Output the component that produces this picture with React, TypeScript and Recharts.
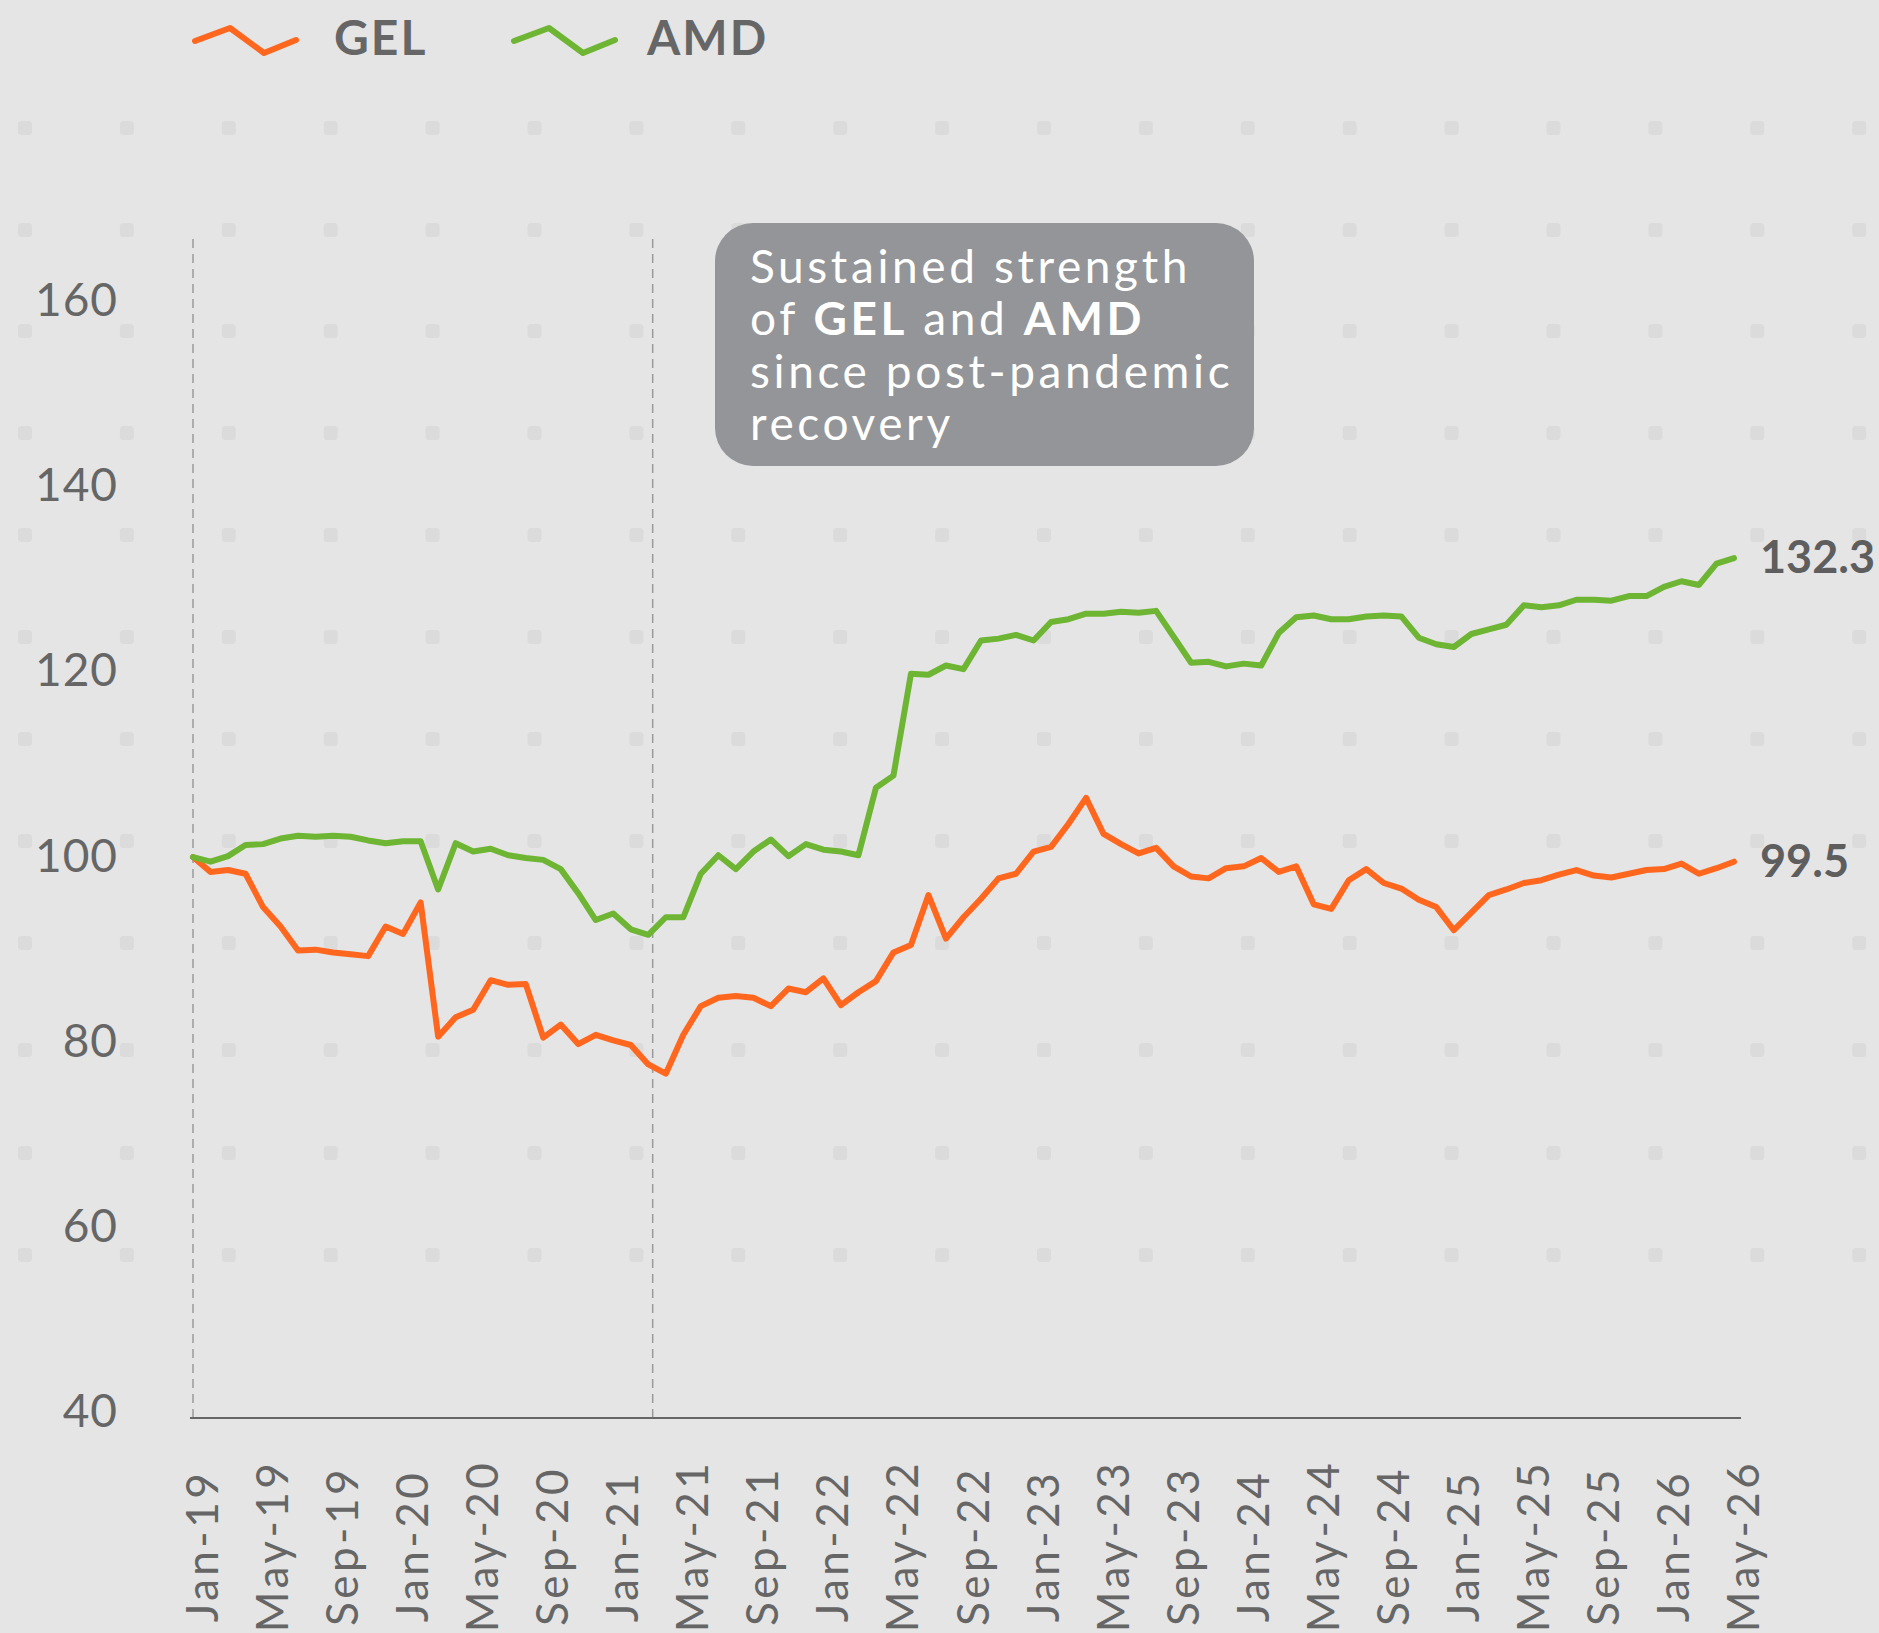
import React from 'react';
import { LineChart, Line, XAxis, YAxis, ReferenceLine, Legend, LabelList } from 'recharts';

const MONTH_NAMES = ['Jan', 'Feb', 'Mar', 'Apr', 'May', 'Jun', 'Jul', 'Aug', 'Sep', 'Oct', 'Nov', 'Dec'];
const START_YEAR = 2019;
const MONTH_COUNT = 89;
const categories: string[] = Array.from(
  { length: MONTH_COUNT },
  (_, i) => `${MONTH_NAMES[i % 12]}-${String((START_YEAR + Math.floor(i / 12)) % 100)}`
);

const gelValues = [
  100, 98.4, 98.6, 98.2, 94.6, 92.5, 89.9, 90.0, 89.7, 89.5, 89.3, 92.5,
  91.7, 95.1, 80.6, 82.7, 83.5, 86.7, 86.2, 86.3, 80.5, 81.9, 79.8, 80.8,
  80.2, 79.7, 77.6, 76.6, 80.8, 83.9, 84.8, 85.0, 84.8, 83.9, 85.8, 85.4,
  86.9, 84.0, 85.4, 86.6, 89.7, 90.5, 95.9, 91.2, 93.5, 95.5, 97.7, 98.2,
  100.6, 101.1, 103.6, 106.4, 102.5, 101.4, 100.4, 101.0, 99.0, 97.9, 97.7, 98.8,
  99.0, 99.9, 98.4, 99.0, 94.9, 94.4, 97.5, 98.7, 97.2, 96.6, 95.4, 94.6,
  92.1, 94.0, 95.9, 96.5, 97.2, 97.5, 98.1, 98.6, 98.0, 97.8, 98.2, 98.6,
  98.7, 99.3, 98.2, 98.8, 99.5,
];

const amdValues = [
  100, 99.5, 100.1, 101.3, 101.4, 102.0, 102.3, 102.2, 102.3, 102.2, 101.8, 101.5,
  101.7, 101.7, 96.5, 101.5, 100.6, 100.9, 100.2, 99.9, 99.7, 98.7, 96.1, 93.2,
  93.9, 92.2, 91.6, 93.5, 93.5, 98.2, 100.2, 98.7, 100.6, 101.9, 100.1, 101.4,
  100.8, 100.6, 100.2, 107.5, 108.8, 119.8, 119.7, 120.7, 120.3, 123.4, 123.6, 124.0,
  123.4, 125.4, 125.7, 126.3, 126.3, 126.5, 126.4, 126.6, 123.8, 121.0, 121.1, 120.6,
  120.9, 120.7, 124.2, 125.9, 126.1, 125.7, 125.7, 126.0, 126.1, 126.0, 123.7, 123.0,
  122.7, 124.1, 124.6, 125.1, 127.2, 127.0, 127.2, 127.8, 127.8, 127.7, 128.2, 128.2,
  129.2, 129.8, 129.4, 131.7, 132.3,
];

const yTicks = [40, 60, 80, 100, 120, 140, 160];
const xTickIndexes = Array.from({ length: 23 }, (_, k) => k * 4);
// positions (in months since Jan-19) of the two dashed markers
const referencePositions = [0, 26.25];

const seriesList = [
  { key: 'gel', name: 'GEL', color: '#FF671F' },
  { key: 'amd', name: 'AMD', color: '#6DB533' },
];

const annotationLines: { text: string; bold?: boolean }[][] = [
  [{ text: 'Sustained strength' }],
  [{ text: 'of ' }, { text: 'GEL', bold: true }, { text: ' and ' }, { text: 'AMD', bold: true }],
  [{ text: 'since post-pandemic' }],
  [{ text: 'recovery' }],
];

const data = categories.map((month, i) => ({ idx: i, month, gel: gelValues[i], amd: amdValues[i] }));

const FONT = 'Lato, "Open Sans", sans-serif';
const BG = '#e5e5e5';
const DOT = '#dbdbdb';
const TEXT = '#666666';

const dotCols = Array.from({ length: 19 }, (_, k) => 25 + 101.9 * k);
const dotRows = [128, 230, 331, 433, 535, 637, 739, 841, 943, 1050, 1153, 1255];

const XTick = (props: any) => {
  const { x, y, payload } = props;
  return (
    <g transform={`translate(${x},${y + 128}) rotate(-90)`}>
      <text
        x={0}
        y={25}
        textAnchor="middle"
        fill={TEXT}
        fontFamily={FONT}
        fontSize={44}
        letterSpacing={3.5}
      >
        {categories[payload.value]}
      </text>
    </g>
  );
};

const YTick = (props: any) => {
  const { x, y, payload } = props;
  return (
    <text
      x={x}
      y={y - 3}
      textAnchor="end"
      dominantBaseline="central"
      fill={TEXT}
      fontFamily={FONT}
      fontSize={46}
      letterSpacing={1}
    >
      {payload.value}
    </text>
  );
};

const renderLegend = () => {
  const zig = [
    [0, 13],
    [35, 0],
    [69, 25],
    [101, 12],
  ];
  const items = [
    { ...seriesList[0], sx: 195, tx: 334 },
    { ...seriesList[1], sx: 514, tx: 647 },
  ];
  return (
    <svg width={900} height={80} style={{ display: 'block' }}>
      {items.map((it) => (
        <g key={it.key}>
          <polyline
            points={zig.map(([dx, dy]) => `${it.sx + dx},${28 + dy}`).join(' ')}
            fill="none"
            stroke={it.color}
            strokeWidth={6}
            strokeLinecap="round"
            strokeLinejoin="round"
          />
          <text
            x={it.tx}
            y={55}
            fill={TEXT}
            fontFamily={FONT}
            fontWeight={700}
            fontSize={48}
            letterSpacing={2}
          >
            {it.name}
          </text>
        </g>
      ))}
    </svg>
  );
};

const makeEndLabel = () => (props: any) => {
  const { x, y, value, index } = props;
  if (index !== data.length - 1) return null;
  return (
    <text
      x={x + 26}
      y={y - 2}
      dominantBaseline="central"
      fill="#5e5e5e"
      fontFamily={FONT}
      fontWeight={700}
      fontSize={45}
    >
      {Number(value).toFixed(1)}
    </text>
  );
};

export default function App() {
  return (
    <div
      style={{
        position: 'absolute',
        left: 0,
        top: 0,
        width: 1879,
        height: 1633,
        background: BG,
        overflow: 'hidden',
      }}
    >
      <svg width={1879} height={1633} style={{ position: 'absolute', left: 0, top: 0 }}>
        {dotRows.map((ry) =>
          dotCols.map((cx) => (
            <rect key={`${cx}-${ry}`} x={cx - 7} y={ry - 7} width={14} height={14} rx={3.5} fill={DOT} />
          ))
        )}
      </svg>
      <div style={{ position: 'absolute', left: 0, top: 0 }}>
        <LineChart width={1879} height={1633} data={data} margin={{ top: 156, right: 138, bottom: 0, left: 0 }}>
          <Legend
            verticalAlign="top"
            align="left"
            content={renderLegend}
            wrapperStyle={{ top: 0, left: 0, width: 900, height: 80 }}
          />
          <XAxis
            dataKey="idx"
            type="number"
            domain={[0, MONTH_COUNT - 1]}
            ticks={xTickIndexes}
            interval={0}
            height={215}
            padding={{ left: 3, right: 7 }}
            axisLine={{ stroke: '#666666', strokeWidth: 2 }}
            tickLine={false}
            tickSize={0}
            tickMargin={0}
            tick={<XTick />}
          />
          <YAxis
            type="number"
            width={190}
            domain={[39.4, 167.1]}
            allowDataOverflow
            ticks={yTicks}
            axisLine={false}
            tickLine={false}
            tickSize={0}
            tickMargin={72}
            tick={<YTick />}
          />
          {referencePositions.map((p) => (
            <ReferenceLine key={p} x={p} stroke="#9a9a9a" strokeWidth={1.5} strokeDasharray="9 6" />
          ))}
          {seriesList.map((s) => (
            <Line
              key={s.key}
              type="linear"
              dataKey={s.key}
              name={s.name}
              stroke={s.color}
              strokeWidth={6}
              dot={false}
              activeDot={false}
              strokeLinejoin="round"
              strokeLinecap="round"
              isAnimationActive={false}
            >
              <LabelList dataKey={s.key} content={makeEndLabel()} />
            </Line>
          ))}
        </LineChart>
      </div>
      <svg
        width={1879}
        height={1633}
        style={{ position: 'absolute', left: 0, top: 0, pointerEvents: 'none' }}
      >
        <rect x={715} y={223} width={539} height={243} rx={38} fill="#939598" />
        {annotationLines.map((line, li) => (
          <text
            key={li}
            x={750}
            y={283 + li * 52.4}
            fill="#ffffff"
            fontFamily={FONT}
            fontSize={46}
            letterSpacing={3.6}
          >
            {line.map((seg, si) => (
              <tspan key={si} fontWeight={seg.bold ? 700 : 400}>
                {seg.text}
              </tspan>
            ))}
          </text>
        ))}
      </svg>
    </div>
  );
}
